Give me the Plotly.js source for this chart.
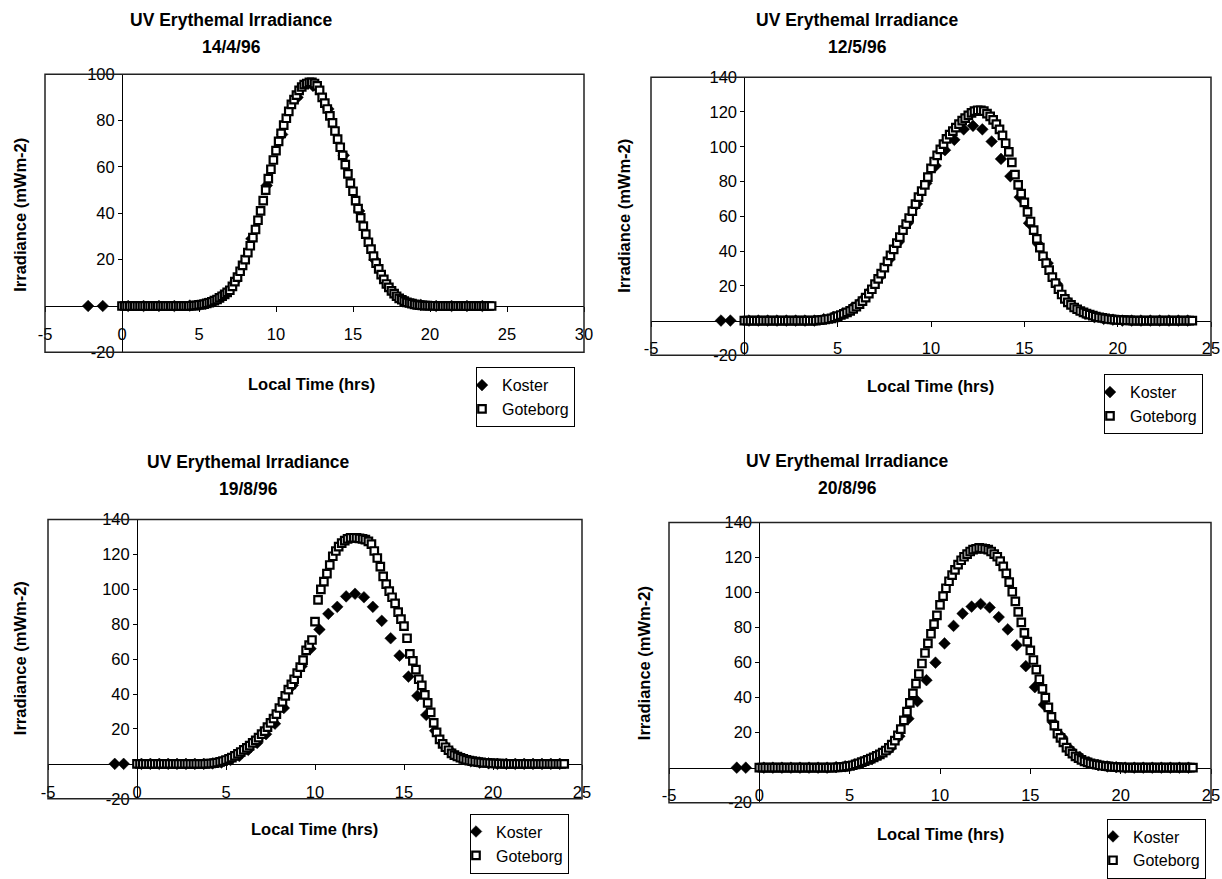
<!DOCTYPE html>
<html>
<head>
<meta charset="utf-8">
<script src="https://cdn.plot.ly/plotly-3.0.1.min.js"></script>
<style>html,body{margin:0;padding:0;background:#fff}#chart{width:1222px;height:879px}</style>
</head>
<body>
<div id="chart"></div>
<script>
// ---------------- DATA ----------------
const chartTitle = 'UV Erythemal Irradiance';
const chartDates = ['14/4/96', '12/5/96', '19/8/96', '20/8/96'];
const xAxisTitle = 'Local Time (hrs)';
const yAxisTitle = 'Irradiance (mWm-2)';
const seriesNames = ['Koster', 'Goteborg'];

const xTicksWide = [-5, 0, 5, 10, 15, 20, 25, 30];
const xTicks = [-5, 0, 5, 10, 15, 20, 25];
const yTicks100 = [-20, 20, 40, 60, 80, 100];
const yTicks140 = [-20, 20, 40, 60, 80, 100, 120, 140];

// Goteborg: 10-minute readings, local time (hrs)
const gbgTime = [
  0,0.17,0.33,0.5,0.67,0.83, 1,1.17,1.33,1.5,1.67,1.83, 2,2.17,2.33,2.5,2.67,2.83,
  3,3.17,3.33,3.5,3.67,3.83, 4,4.17,4.33,4.5,4.67,4.83, 5,5.17,5.33,5.5,5.67,5.83,
  6,6.17,6.33,6.5,6.67,6.83, 7,7.17,7.33,7.5,7.67,7.83, 8,8.17,8.33,8.5,8.67,8.83,
  9,9.17,9.33,9.5,9.67,9.83, 10,10.17,10.33,10.5,10.67,10.83, 11,11.17,11.33,11.5,11.67,11.83,
  12,12.17,12.33,12.5,12.67,12.83, 13,13.17,13.33,13.5,13.67,13.83, 14,14.17,14.33,14.5,14.67,14.83,
  15,15.17,15.33,15.5,15.67,15.83, 16,16.17,16.33,16.5,16.67,16.83, 17,17.17,17.33,17.5,17.67,17.83,
  18,18.17,18.33,18.5,18.67,18.83, 19,19.17,19.33,19.5,19.67,19.83, 20,20.17,20.33,20.5,20.67,20.83,
  21,21.17,21.33,21.5,21.67,21.83, 22,22.17,22.33,22.5,22.67,22.83, 23,23.17,23.33,23.5,23.67,23.83,
  24
];

const gbg1 = [
  0,0,0,0,0,0, 0,0,0,0,0,0, 0,0,0,0,0,0, 0,0,0,0,0,0,
  0,0,0,0.1,0.2,0.3,
  0.5,0.6,0.8,1.1,1.4,1.8,
  2.3,2.8,3.5,4.2,5,5.9,
  6.8,8.5,10.5,12.5,15,17.5,
  20,23,26,29.5,33,37,
  41,45.5,50,55,59,63,
  67,71,74.5,78,81,84,
  87,89,91,93,94.5,95.5,
  96,96.5,96.5,96,95,93,
  90,87.5,85,82,79,75.5,
  72,68.5,65,61,57,53,
  49.5,45.5,42,38,34.5,31,
  27.5,24.5,21.5,18.5,16,13.5,
  11.5,9.5,8,6.5,5.3,4.2,
  3.3,2.7,2.1,1.6,1.3,1,
  0.7,0.5,0.4,0.3,0.2,0.2,
  0.1,0.1,0.1,0,0,0,
  0,0,0,0,0,0, 0,0,0,0,0,0, 0,0,0,0,0,0,
  0
];

const gbg2 = [
  0,0,0,0,0,0, 0,0,0,0,0,0, 0,0,0,0,0,0, 0,0,0,0,0,0,
  0.2,0.4,0.6,0.9,1.3,1.8,
  2.6,3.2,3.9,4.7,5.6,6.7,
  8,9.5,11.2,13.2,15.5,18,
  21,24,27,30.5,34,37.5,
  41,44.5,48,52,55.5,59,
  63,67,71,74.5,78,82.5,
  87.5,91.5,95,98.5,101.5,104.5,
  107,109,111,113,115,116.5,
  118,119.5,120.5,121,121,120.5,
  119,117.5,115.5,113,110,106.5,
  102,97,91,84,78,73,
  68,62.5,57,52,47,42,
  37,33,29,25,21.5,18,
  15,12.5,10.5,9,7.5,6.5,
  5.5,4.7,4,3.4,2.8,2.3,
  1.8,1.5,1.2,0.9,0.7,0.5,
  0.4,0.3,0.2,0.1,0.1,0,
  0,0,0,0,0,0, 0,0,0,0,0,0, 0,0,0,0,0,0,
  0
];

const gbg3 = [
  0,0,0,0,0,0, 0,0,0,0,0,0, 0,0,0,0,0,0, 0,0,0,0,0,0,
  0.1,0.2,0.4,0.7,1.1,1.6,
  2.2,2.8,3.6,4.6,5.7,6.8,
  8,9.2,10.5,12,13.5,15,
  17,18.8,21,23.5,26,28.5,
  32,35.5,39,42.5,45.5,48.5,
  52,55.5,59.5,65,68,71,
  81.5,94,100,104.5,109,114,
  119,122,124.5,126.5,128,129,
  129.5,129.6,129.5,129.3,129,128.5,
  127.5,126,122,118,113,107.5,
  103,99,95.5,92,87,83,
  79,72,63,59,54,48.5,
  45,39.5,35,29.5,23.5,18,
  14,11.5,9.5,7.8,6,5,
  4.2,3.5,2.8,2.3,1.9,1.6,
  1.3,1,0.8,0.6,0.5,0.4,
  0.3,0.2,0.1,0.1,0,0,
  0,0,0,0,0,0, 0,0,0,0,0,0, 0,0,0,0,0,0,
  0
];

const gbg4 = [
  0,0,0,0,0,0, 0,0,0,0,0,0, 0,0,0,0,0,0, 0,0,0,0,0,0,
  0,0.1,0.2,0.3,0.5,0.7,
  1,1.4,1.9,2.5,3.2,3.8,
  4.5,5.2,5.9,6.7,7.6,8.6,
  9.8,11.3,13.2,15.5,18.5,22,
  27,32,37,42.5,48,53.5,
  59.5,65.5,71,76.5,82,87,
  93,98,102.5,106.5,110,113,
  116,118.5,120.5,122,123.5,124.5,
  125,125.5,125.3,125,124.5,123.5,
  122,120.5,118,115,111,106,
  100.5,95,89,83,77,72,
  67,61.5,56,50.5,45,40,
  34.5,29,24,19.5,17,14.5,
  11.5,9.5,8,6.5,5.5,4.5,
  3.6,3,2.5,2,1.7,1.4,
  1.1,0.9,0.7,0.5,0.4,0.3,
  0.2,0.1,0.1,0,0,0,
  0,0,0,0,0,0, 0,0,0,0,0,0, 0,0,0,0,0,0,
  0
];

// Koster: hourly on 14/4/96, half-hourly on the other days
const kosterTimeHourly = [-2.2, -1.25,
  0.4,1.4,2.4,3.4,4.4,5.4,6.4,7.4,8.4,9.4,10.4,11.4,
  12.4,13.4,14.4,15.4,16.4,17.4,18.4,19.4,20.4,21.4,22.4,23.4];
const koster1 = [0, 0,
  0,0,0,0,0.2,1,4,11,29,52,74,90,
  95,85,65,41,20,7.5,2,0.5,0,0,0,0];

const kosterTimeHalf = [-1.25, -0.75,
  0.25,0.75,1.25,1.75,2.25,2.75,3.25,3.75,
  4.25,4.75,5.25,5.75,6.25,6.75,7.25,7.75,8.25,8.75,9.25,9.75,
  10.25,10.75,11.25,11.75,12.25,12.75,13.25,13.75,14.25,14.75,15.25,15.75,
  16.25,16.75,17.25,17.75,18.25,18.75,19.25,19.75,
  20.25,20.75,21.25,21.75,22.25,22.75,23.25,23.75];
const koster2 = [0, 0,
  0,0,0,0,0,0,0,0,
  0.8,2,4,7,11,17,25,35,45,56,67,79,
  89,98,104,110,112,110,103,93,83,71,56,44,
  33,21,12,7,4,2,1,0.5,
  0,0,0,0,0,0,0,0];
const koster3 = [0, 0,
  0,0,0,0,0,0,0,0,
  0.2,0.8,2.2,4.5,8,12,17,23,32,45,56,66,
  77,86,90,96,97.5,95.5,90,82,72,62,50,39,
  28,19,11,6,3,1.5,0.7,0.3,
  0,0,0,0,0,0,0,0];
const koster4 = [0, 0,
  0,0,0,0,0,0,0,0,
  0.3,0.8,1.8,3.2,5,8,11,18,28,38,50,60,
  71,81,88,92,93.5,91.5,86,79,70,58,46,36,
  26,17.5,10,6,3,1.5,0.7,0.3,
  0,0,0,0,0,0,0,0];

// ---------------- LAYOUT (pixel positions) ----------------
const W = 1222, H = 879;
const FONT = '"Liberation Sans", Arial, Helvetica, sans-serif';
const px = v => v / W;
const py = v => 1 - v / H;

const panels = [
  {date: chartDates[0], gbg: gbg1, kT: kosterTimeHourly, k: koster1, xTicks: xTicksWide, yTicks: yTicks100,
   frame: {l: 45, r: 584, t: 75, b: 356}, title: {x: 231, y1: 20, y2: 47},
   xt: {x: 311, y: 388}, yt: {x: 20, y: 217}, leg: {x: 476, y: 371}},
  {date: chartDates[1], gbg: gbg2, kT: kosterTimeHalf, k: koster2, xTicks: xTicks, yTicks: yTicks140,
   frame: {l: 651, r: 1211, t: 78, b: 359}, title: {x: 857, y1: 20, y2: 47},
   xt: {x: 930, y: 390}, yt: {x: 624, y: 218}, leg: {x: 1104, y: 378}},
  {date: chartDates[2], gbg: gbg3, kT: kosterTimeHalf, k: koster3, xTicks: xTicks, yTicks: yTicks140,
   frame: {l: 48, r: 582, t: 525, b: 807}, title: {x: 248, y1: 467, y2: 494},
   xt: {x: 314, y: 838}, yt: {x: 20, y: 665}, leg: {x: 470, y: 822}},
  {date: chartDates[3], gbg: gbg4, kT: kosterTimeHalf, k: koster4, xTicks: xTicks, yTicks: yTicks140,
   frame: {l: 669, r: 1211, t: 528, b: 811}, title: {x: 847, y1: 466, y2: 493},
   xt: {x: 940, y: 843}, yt: {x: 644, y: 670}, leg: {x: 1107, y: 827}}
];

const traces = [];
const layout = {
  width: W, height: H,
  margin: {l: 0, r: 0, t: 0, b: 0},
  paper_bgcolor: '#fff', plot_bgcolor: '#fff',
  font: {family: FONT, color: '#000'},
  annotations: [], shapes: []
};

panels.forEach((p, i) => {
  const n = i === 0 ? '' : String(i + 1);
  const xa = 'x' + n, ya = 'y' + n;
  const legName = 'legend' + n;
  const xRange = [p.xTicks[0], p.xTicks[p.xTicks.length - 1]];
  const yRange = [p.yTicks[0], p.yTicks[p.yTicks.length - 1]];
  const xDom = [px(p.frame.l), px(p.frame.r)];
  const yDom = [py(p.frame.b), py(p.frame.t)];
  const xAxisPos = yDom[0] + (0 - yRange[0]) / (yRange[1] - yRange[0]) * (yDom[1] - yDom[0]);
  const yAxisPos = xDom[0] + (0 - xRange[0]) / (xRange[1] - xRange[0]) * (xDom[1] - xDom[0]);

  traces.push({
    type: 'scatter', mode: 'markers', name: seriesNames[0],
    x: p.kT, y: p.k, xaxis: xa, yaxis: ya, legend: legName,
    marker: {symbol: 'diamond', size: 9, color: '#000', line: {width: 0.5, color: '#000'}},
    hoverinfo: 'skip'
  });
  traces.push({
    type: 'scatter', mode: 'markers', name: seriesNames[1],
    x: gbgTime, y: p.gbg, xaxis: xa, yaxis: ya, legend: legName,
    marker: {symbol: 'square', size: 7.5, color: '#fff', line: {width: 2.2, color: '#000'}},
    hoverinfo: 'skip'
  });

  layout['xaxis' + n] = {
    domain: xDom, range: xRange, anchor: 'free', position: xAxisPos,
    tickmode: 'array', tickvals: p.xTicks, ticktext: p.xTicks.map(String),
    ticks: 'outside', ticklen: 5, tickwidth: 1, tickcolor: '#000',
    ticklabelstandoff: 8,
    showline: true, linecolor: '#000', linewidth: 1,
    showgrid: false, zeroline: false, layer: 'below traces',
    tickfont: {family: FONT, size: 16.5, color: '#000'}, fixedrange: true
  };
  layout['yaxis' + n] = {
    domain: yDom, range: yRange, anchor: 'free', position: yAxisPos,
    tickmode: 'array', tickvals: p.yTicks, ticktext: p.yTicks.map(String),
    ticks: 'outside', ticklen: 4, tickwidth: 1, tickcolor: '#000',
    showline: true, linecolor: '#000', linewidth: 1,
    showgrid: false, zeroline: false, layer: 'below traces',
    tickfont: {family: FONT, size: 16.5, color: '#000'}, fixedrange: true
  };
  layout[legName] = {
    x: px(p.leg.x), y: py(p.leg.y), xanchor: 'left', yanchor: 'top',
    bgcolor: '#fff', bordercolor: '#000', borderwidth: 1,
    font: {family: FONT, size: 16, color: '#000'},
    itemwidth: 30, tracegroupgap: 0, indentation: -15
  };
  layout.shapes.push({
    type: 'rect', xref: xa + ' domain', yref: ya + ' domain',
    x0: 0, x1: 1, y0: 0, y1: 1, line: {color: '#222', width: 1.5}, layer: 'above'
  });
  const bold = (size) => ({family: FONT, size: size, color: '#000', weight: 'bold'});
  layout.annotations.push(
    {text: chartTitle, x: px(p.title.x), y: py(p.title.y1), xref: 'paper', yref: 'paper',
     xanchor: 'center', yanchor: 'middle', showarrow: false, font: bold(17.5)},
    {text: p.date, x: px(p.title.x), y: py(p.title.y2), xref: 'paper', yref: 'paper',
     xanchor: 'center', yanchor: 'middle', showarrow: false, font: bold(17.5)},
    {text: xAxisTitle, x: px(p.xt.x), y: py(p.xt.y), xref: 'paper', yref: 'paper',
     xanchor: 'center', yanchor: 'middle', showarrow: false, font: bold(16.5)},
    {text: yAxisTitle, x: px(p.yt.x), y: py(p.yt.y), xref: 'paper', yref: 'paper',
     xanchor: 'center', yanchor: 'middle', showarrow: false, textangle: -90, font: bold(16.5)}
  );
});

Plotly.newPlot('chart', traces, layout, {displayModeBar: false, responsive: false});
</script>
</body>
</html>
